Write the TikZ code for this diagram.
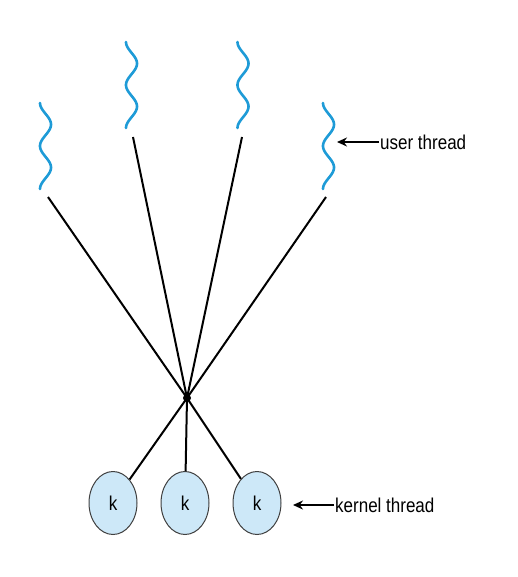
\documentclass[tikz,border=0pt]{standalone}
\usepackage{fontspec}
\setmainfont[FakeStretch=0.85]{Liberation Sans}
\usetikzlibrary{arrows.meta, shapes.geometric}
\definecolor{threadblue}{HTML}{1E9BD7}
\definecolor{kernelblue}{HTML}{CDE8F8}

\begin{document}
\begin{tikzpicture}[x=1pt, y=-1pt,
         wave/.style = {line width=2.6pt, draw=threadblue, line cap=round},
         link/.style = {line width=2pt},
          hub/.style = {circle, fill=black, inner sep=0pt, minimum size=8pt},
      kthread/.style = {ellipse, draw=black!75, line width=1pt, fill=kernelblue,
                        minimum width=48pt, minimum height=63pt, inner sep=0pt,
                        font=\fontsize{20}{22}\selectfont},
          lbl/.style = {anchor=west, inner sep=1pt, font=\fontsize{20}{22}\selectfont},
      pointer/.style = {line width=2pt, -{Stealth[length=10pt, width=9pt]}}
                    ]
\useasboundingbox (0,0) rectangle (518,577);
% user threads
\foreach \c/\top/\i/\ux/\uy in {45.5/103/1/48/197, 131.5/42/2/133/137,
                                243/42/3/242/137, 328.5/103/4/326/197}
{
    \draw[wave] plot[domain=0:86, samples=90, smooth] ({\c-5.5*cos(8.372*\x)}, {\top+\x});
    \coordinate (u\i) at (\ux,\uy);
}
% many-to-many hub
\node[hub] (hub) at (187,398) {};
\foreach \i in {1,...,4}
    \draw[link] (u\i) -- (hub.center);
% kernel threads
\node[kthread] (k1) at (113,503) {k};
\node[kthread] (k2) at (185,503) {k};
\node[kthread] (k3) at (257,503) {k};
\foreach \i in {1,2,3}
    \draw[link] (hub.center) -- (k\i);
% labels
\node[lbl] (utext) at (379,142) {user thread};
\coordinate (ut) at (337,142);
\draw[pointer] (utext.west) -- (ut);
\node[lbl] (ktext) at (334,505) {kernel thread};
\coordinate (kt) at (293,505);
\draw[pointer] (ktext.west) -- (kt);
\end{tikzpicture}
\end{document}
